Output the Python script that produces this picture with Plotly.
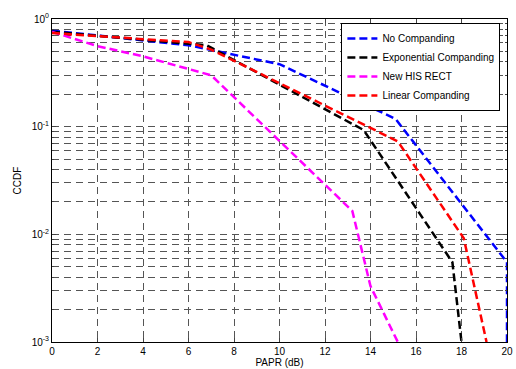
import plotly.graph_objects as go

x_none = [0, 6, 10, 15.1, 20, 20]
y_none = [0.78, 0.57, 0.38, 0.118, 0.0055, 0.001]

x_exp = [0, 6.8, 13.7, 17.6, 18.0]
y_exp = [0.76, 0.57, 0.093, 0.0055, 0.001]

x_his = [0, 2, 4, 7, 13.2, 14.0, 15.2]
y_his = [0.76, 0.56, 0.45, 0.30, 0.0165, 0.0033, 0.001]

x_lin = [0, 6, 7, 15.2, 18.1, 19.1]
y_lin = [0.74, 0.61, 0.52, 0.073, 0.0092, 0.001]

names = ["No Companding", "Exponential Companding", "New HIS RECT", "Linear Companding"]
colors = ["#0000FF", "#000000", "#FF00FF", "#FF0000"]

x_ticks = [0, 2, 4, 6, 8, 10, 12, 14, 16, 18, 20]
y_ticks = [1e-3, 1e-2, 1e-1, 1]
y_ticktext = ["10<sup>-3</sup>", "10<sup>-2</sup>", "10<sup>-1</sup>", "10<sup>0</sup>"]
y_minor = [m * d for d in [1e-3, 1e-2, 1e-1] for m in range(2, 10)]

fig = go.Figure()
for xs, ys, nm, c in zip([x_none, x_exp, x_his, x_lin], [y_none, y_exp, y_his, y_lin], names, colors):
    fig.add_trace(go.Scatter(x=xs, y=ys, mode="lines", name=nm,
                             line=dict(color=c, width=2.5, dash="8px,4px")))

font = dict(family="Liberation Sans, Arial, sans-serif", size=10, color="#000")
gridc = "#555"
fig.update_layout(
    width=516, height=369,
    margin=dict(l=52, r=3, t=19, b=27),
    paper_bgcolor="white", plot_bgcolor="white",
    font=font,
    showlegend=True,
    legend=dict(x=0.636, y=0.988, xanchor="left", yanchor="top",
                bgcolor="white", bordercolor="black", borderwidth=1,
                font=font, tracegroupgap=0, itemwidth=30),
    xaxis=dict(range=[0, 20], tickvals=x_ticks, ticks="inside", ticklen=4,
               showline=True, linecolor="black", linewidth=1, mirror="ticks",
               showgrid=True, gridcolor=gridc, griddash="7px,5px", gridwidth=1,
               zeroline=False, tickfont=font, ticklabeloverflow="allow",
               title=dict(text="PAPR (dB)", font=font, standoff=2)),
    yaxis=dict(type="log", range=[-3, 0], tickvals=y_ticks, ticktext=y_ticktext,
               ticks="inside", ticklen=4,
               showline=True, linecolor="black", linewidth=1, mirror="ticks",
               showgrid=True, gridcolor=gridc, griddash="7px,5px", gridwidth=1,
               zeroline=False, tickfont=font, ticklabeloverflow="allow",
               minor=dict(tickvals=y_minor, ticks="inside", ticklen=2, showgrid=True,
                          gridcolor=gridc, griddash="7px,5px", gridwidth=1),
               title=dict(text="CCDF", font=font, standoff=8)),
)
fig.write_html("out.html")
